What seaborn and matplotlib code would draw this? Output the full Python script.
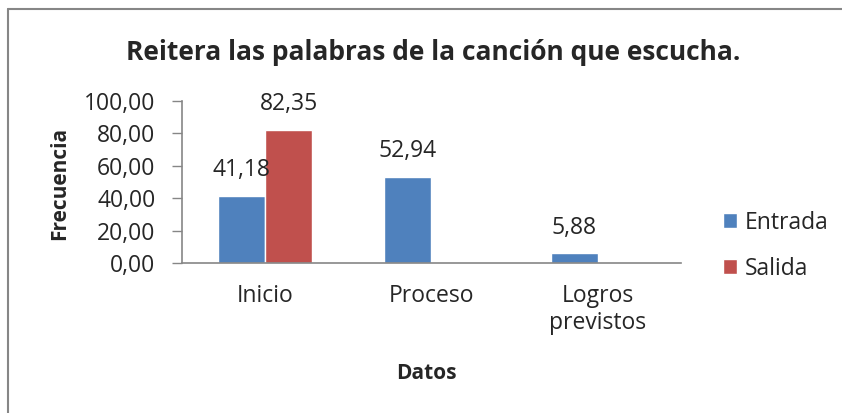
import pandas as pd
import numpy as np
import matplotlib.pyplot as plt
import seaborn as sns
from matplotlib.lines import Line2D

categorias = ["Inicio", "Proceso", "Logros\nprevistos"]
entrada = [41.18, 52.94, 5.88]
salida = [82.35, np.nan, np.nan]
series = ["Entrada", "Salida"]
colores = ["#4F81BD", "#C0504D"]

df = pd.DataFrame({
    "Datos": categorias * 2,
    "Serie": ["Entrada"] * 3 + ["Salida"] * 3,
    "Frecuencia": entrada + salida,
}).dropna()

sns.set_style("white")
plt.rcParams['font.family'] = ['Open Sans', 'DejaVu Sans']

coma = lambda v: f"{v:.2f}".replace(".", ",")

fig = plt.figure(figsize=(8.42, 4.13), dpi=100)
ax = fig.add_axes([182 / 842, 1 - 263 / 413, 499 / 842, 162 / 413])

sns.barplot(data=df, x="Datos", y="Frecuencia", hue="Serie", order=categorias,
            hue_order=series, palette=colores, width=0.566, saturation=1,
            ax=ax, legend=True)

# etiquetas de datos con coma decimal
for cont in ax.containers:
    ax.bar_label(cont, fmt=coma, padding=10, fontsize=16.5)

ax.set_xlim(-0.5, 2.5)
ax.set_ylim(0, 100)
ax.set_yticks(np.arange(0, 101, 20))
ax.set_yticklabels([coma(v) for v in np.arange(0, 101, 20)])
ax.tick_params(axis="y", length=7, color="#868686", width=1, labelsize=16.5, pad=12, left=True)
ax.tick_params(axis="x", length=0, labelsize=16.5, pad=15)

for s in ["top", "right"]:
    ax.spines[s].set_visible(False)
for s in ["left", "bottom"]:
    ax.spines[s].set_color("#868686")
    ax.spines[s].set_linewidth(1.2)

ax.set_xlabel("Datos", fontsize=15, fontweight="bold")
ax.xaxis.set_label_coords(0.49, -0.615)
ax.set_ylabel("Frecuencia", fontsize=15, fontweight="bold")
ax.yaxis.set_label_coords(-0.225, 0.49)

ax.legend(loc="center left", bbox_to_anchor=(0.834, 0.405), bbox_transform=fig.transFigure,
          frameon=False, fontsize=16.5, handlelength=0.6, handleheight=0.6,
          labelspacing=0.95, handletextpad=0.35)

fig.text(0.515, 1 - 52 / 413, "Reitera las palabras de la canción que escucha.",
         ha="center", va="center", fontsize=19, fontweight="bold")

# marco del gráfico (recortado a la derecha y abajo)
fig.add_artist(Line2D([8 / 842, 8 / 842], [0, 1 - 9 / 413], transform=fig.transFigure,
                      color="#868686", linewidth=1.5))
fig.add_artist(Line2D([8 / 842, 1], [1 - 9 / 413, 1 - 9 / 413], transform=fig.transFigure,
                      color="#868686", linewidth=1.5))

fig.savefig("out.png", dpi=100)
